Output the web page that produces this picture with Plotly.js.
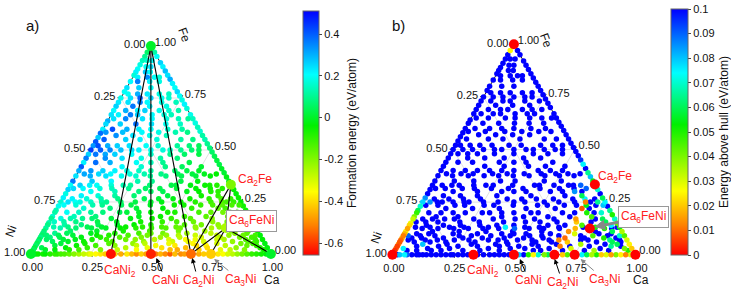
<!DOCTYPE html>
<html>
<head>
<meta charset="utf-8">
<script src="https://cdn.plot.ly/plotly-3.0.1.min.js"></script>
<style>
  html, body { margin: 0; padding: 0; background: #fff; }
  #chart { width: 731px; height: 291px; }
</style>
</head>
<body>
<div id="chart"></div>
<script>
// ---------- Ca–Fe–Ni structures: compositions in at.% ----------

// Fe–Ni binary edge (Ca = 0): Fe content, formation energy, energy above hull
const leftFe = [97, 95, 93, 91, 89, 87.5, 86, 83, 80, 78, 75, 73, 71, 69, 67, 64, 62.5, 60, 58, 56,
  54, 52, 50, 48, 46, 44, 42, 40, 37.5, 35, 33, 31, 29, 27, 25, 23, 21, 20, 18, 17,
  15, 14, 12.5, 11, 10, 9, 8, 7, 6, 5, 4, 3, 2];
const leftEf = [0.06, 0.1, 0.14, 0.18, 0.2, 0.22, 0.17, 0.21, 0.24, 0.2, 0.19, 0.23, 0.26, 0.21, 0.24,
  0.3, 0.25, 0.22, 0.38, 0.27, 0.41, 0.33, 0.44, 0.26, 0.36, 0.22, 0.4, 0.3, 0.24, 0.37,
  0.2, 0.26, 0.18, 0.22, 0.16, 0.19, 0.14, 0.12, 0.16, 0.1, 0.13, 0.09, 0.11, 0.07, 0.08,
  0.06, 0.09, 0.05, 0.07, 0.04, 0.06, 0.03, 0.05];
const leftEh = [0.025, 0.14, 0.19, 0.22, 0.24, 0.26, 0.2, 0.25, 0.28, 0.23, 0.22, 0.26, 0.29, 0.24, 0.27,
  0.33, 0.28, 0.25, 0.41, 0.3, 0.44, 0.36, 0.47, 0.29, 0.39, 0.25, 0.43, 0.32, 0.26, 0.38,
  0.2, 0.24, 0.15, 0.085, 0.078, 0.07, 0.06, 0.048, 0.04, 0.032, 0.028, 0.022, 0.016, 0.025, 0.018,
  0.012, 0.02, 0.01, 0.008, 0.015, 0.006, 0.01, 0.004];

// Fe–Ca binary edge (Ni = 0)
const rightFe = [97, 95, 92, 90, 88, 86, 84, 82, 80, 78, 76, 74, 72, 70, 67, 65, 63, 61, 59, 57,
  55, 53, 51, 49, 47, 45, 43, 41, 39, 37, 35, 31, 29, 27, 25, 23, 21, 19, 17, 15,
  13, 11, 9, 7, 5, 3];
const rightEf = [0.12, 0.2, 0.26, 0.22, 0.28, 0.24, 0.3, 0.22, 0.2, 0.25, 0.2, 0.18, 0.22, 0.17, 0.19,
  0.15, 0.18, 0.14, 0.16, 0.12, 0.13, 0.1, 0.08, 0.06, 0.04, 0.02, 0.03, 0.0, 0.01, -0.02,
  -0.01, -0.04, -0.03, -0.05, -0.04, -0.06, -0.05, -0.07, -0.05, -0.06, -0.04, -0.05, -0.03, -0.04, -0.02,
  -0.03];
const rightEh = [0.14, 0.22, 0.29, 0.25, 0.31, 0.27, 0.33, 0.25, 0.23, 0.28, 0.23, 0.21, 0.25, 0.2, 0.22,
  0.18, 0.21, 0.17, 0.19, 0.15, 0.16, 0.13, 0.12, 0.11, 0.1, 0.095, 0.075, 0.11, 0.065, 0.08,
  0.055, 0.07, 0.1, 0.06, 0.075, 0.12, 0.065, 0.05, 0.07, 0.042, 0.055, 0.035, 0.045, 0.03, 0.025,
  0.02];

// Ni–Ca binary edge (Fe = 0)
const bottomCa = [2, 3, 5, 6, 8, 10, 11, 12.5, 14, 16, 18, 20, 22, 24, 25, 27, 29, 31, 35, 37.5,
  40, 42, 44, 46, 48, 52, 54, 56, 58, 60, 62.5, 64, 70, 72, 78, 80, 82, 84, 86, 88,
  90, 92, 94, 96, 98];
const bottomEf = [-0.03, -0.05, -0.06, -0.04, -0.08, -0.1, -0.09, -0.12, -0.13, -0.16, -0.2, -0.24, -0.28, -0.3, -0.33,
  -0.36, -0.38, -0.42, -0.4, -0.46, -0.38, -0.44, -0.5, -0.41, -0.47, -0.52, -0.45, -0.5, -0.56, -0.44,
  -0.5, -0.48, -0.46, -0.42, -0.38, -0.35, -0.3, -0.27, -0.22, -0.18, -0.14, -0.1, -0.08, -0.06, -0.03];
const bottomEh = [0.11, 0.08, 0.075, 0.09, 0.12, 0.15, 0.18, 0.16, 0.2, 0.22, 0.19, 0.16, 0.13, 0.15, 0.12,
  0.14, 0.16, 0.11, 0.19, 0.13, 0.2, 0.16, 0.12, 0.18, 0.14, 0.08, 0.11, 0.05, 0.025, 0.07,
  0.04, 0.06, 0.02, 0.045, 0.075, 0.06, 0.035, 0.05, 0.02, 0.03, 0.015, 0.04, 0.025, 0.012, 0.03];

// Ternary structures, grouped in rows of equal Fe content
const rowFe = [93, 90, 87.5, 85, 83, 80, 77, 75, 73, 71, 69, 67, 65, 62.5, 60, 58.5, 57, 55, 52, 50,
  48, 46, 44, 42, 40, 38.5, 37.5, 35, 33, 31.5, 30, 28, 26.5, 25, 23.5, 22, 20, 18, 17, 15.5,
  14, 13, 12.5, 11, 10, 9, 8, 7, 6, 5, 4, 3, 2];
const rowCa = [
  [2, 4], [3, 5], [4, 6], [2, 6, 9, 11], [3, 8, 12], [5, 10], [2, 6, 10, 15, 19],
  [4, 8, 12.5, 17, 20], [4, 9, 12, 18, 24], [7, 14, 21], [5, 10, 13, 19, 23, 27],
  [3, 8, 11, 17, 22, 25], [2, 7, 14, 18, 24, 29, 33], [6, 12.5, 19, 25, 31],
  [4, 10, 15, 20, 27, 33], [2, 9, 17, 24, 31, 36], [7, 14, 21, 28], [3, 12, 18, 25, 35, 40],
  [2, 6, 10, 15, 22, 27, 35, 40, 44], [4, 8, 12.5, 17, 20, 25, 30, 33, 37.5, 42, 45],
  [3, 7, 11, 18, 26, 34, 40, 46], [8, 15, 23, 31, 38], [5, 11, 22, 28, 33, 44],
  [17, 25, 35, 42, 50], [5, 10, 15, 20, 25, 30, 40, 45, 50],
  [3, 9, 14, 22, 28, 35, 42, 48, 53, 58], [6, 12.5, 19, 25, 31, 37.5, 44, 50, 56],
  [8, 16, 27, 33, 45, 52], [4, 8, 11, 17, 22, 25, 33, 42, 44, 50, 56, 58, 61],
  [2, 6, 13, 18, 25, 32, 38, 45, 53, 59, 64], [10, 20, 30, 35, 40, 50, 55, 60, 63],
  [7, 14, 21, 29, 43, 57, 64], [4, 10, 16, 23, 34, 40, 46, 53, 61, 66, 70],
  [3, 6, 8, 12.5, 17, 19, 25, 31, 37.5, 42, 50, 56, 62.5, 67, 69, 72],
  [2, 7, 14, 18, 26, 30, 38, 48, 52, 59, 64, 68, 72, 75],
  [11, 22, 33, 44, 56, 67, 70], [5, 10, 15, 20, 27, 30, 35, 40, 47, 50, 60, 65, 70, 73, 76],
  [9, 18, 36, 45, 55, 64, 73], [4, 8, 13, 17, 25, 33, 42, 50, 58, 67, 75, 78],
  [2, 6, 11, 20, 28, 38, 47, 53, 60, 68, 74, 80],
  [7, 14, 21, 29, 36, 43, 57, 64, 71, 79, 83], [3, 9, 17, 23, 33, 40, 48, 54, 62, 72, 77, 86],
  [6, 12.5, 19, 25, 31, 37.5, 44, 50, 56, 62.5, 69, 75, 81, 84],
  [11, 22, 33, 44, 56, 67, 78, 85], [5, 10, 20, 30, 40, 45, 50, 60, 70, 80, 85],
  [2, 7, 13, 23, 28, 36, 44, 52, 57, 64, 73, 78, 84, 89],
  [4, 8, 17, 25, 33, 42, 50, 58, 67, 75, 83, 88],
  [3, 10, 15, 22, 28, 36, 40, 48, 54, 61, 65, 74, 77, 86, 90],
  [6, 12.5, 19, 31, 44, 56, 62.5, 69, 81, 87.5, 91],
  [10, 20, 30, 40, 45, 55, 65, 75, 85, 90], [8, 17, 25, 33, 42, 50, 58, 67, 71, 79, 88, 92],
  [3, 13, 22, 38, 47, 53, 63, 72, 84, 94],
  [5, 9, 15, 19, 28, 35, 43, 57, 60, 69, 78, 82, 88, 96]
];
const rowEf = [
  [0.16, 0.2], [0.2, 0.24], [0.27, 0.2], [0.22, 0.34, 0.2, 0.17], [0.36, 0.22, 0.18], [0.26, 0.2],
  [0.2, 0.3, 0.23, 0.18, 0.15],
  [0.24, 0.4, 0.26, 0.19, 0.16], [0.24, 0.36, 0.21, 0.18, 0.14], [0.37, 0.22, 0.18],
  [0.3, 0.22, 0.26, 0.19, 0.16, 0.13],
  [0.22, 0.36, 0.27, 0.21, 0.17, 0.14], [0.24, 0.35, 0.24, 0.21, 0.17, 0.14, 0.11],
  [0.26, 0.38, 0.24, 0.19, 0.15],
  [0.42, 0.3, 0.22, 0.2, 0.16, 0.12], [0.33, 0.28, 0.21, 0.18, 0.13, 0.09], [0.34, 0.24, 0.19, 0.14],
  [0.4, 0.26, 0.22, 0.17, 0.12, 0.09],
  [0.42, 0.3, 0.26, 0.24, 0.2, 0.16, 0.11, 0.08, 0.05],
  [0.4, 0.35, 0.28, 0.25, 0.22, 0.19, 0.17, 0.15, 0.1, 0.07, 0.05],
  [0.37, 0.31, 0.26, 0.2, 0.15, 0.1, 0.06, 0.03], [0.34, 0.24, 0.18, 0.12, 0.08],
  [0.38, 0.3, 0.2, 0.14, 0.1, 0.03],
  [0.21, 0.16, 0.09, 0.05, 0.01], [0.33, 0.26, 0.22, 0.18, 0.15, 0.12, 0.06, 0.03, 0.0],
  [0.31, 0.25, 0.21, 0.17, 0.13, 0.09, 0.05, 0.02, -0.01, -0.04],
  [0.3, 0.24, 0.19, 0.16, 0.11, 0.08, 0.04, 0.02, -0.03],
  [0.27, 0.21, 0.13, 0.1, 0.03, -0.02],
  [0.26, 0.22, 0.2, 0.17, 0.13, 0.11, 0.07, 0.03, 0.02, -0.02, -0.05, -0.06, -0.08],
  [0.25, 0.21, 0.17, 0.14, 0.1, 0.06, 0.04, 0.01, -0.03, -0.06, -0.08],
  [0.2, 0.14, 0.08, 0.06, 0.04, -0.01, -0.04, -0.07, -0.09],
  [0.22, 0.17, 0.12, 0.07, 0.02, -0.06, -0.1],
  [0.22, 0.17, 0.13, 0.09, 0.04, 0.01, -0.02, -0.05, -0.09, -0.12, -0.1],
  [0.24, 0.2, 0.18, 0.15, 0.12, 0.1, 0.06, 0.03, 0.01, -0.02, -0.05, -0.08, -0.11, -0.14, -0.12, -0.1],
  [0.2, 0.17, 0.13, 0.1, 0.05, 0.03, 0.0, -0.05, -0.06, -0.1, -0.13, -0.15, -0.13, -0.11],
  [0.16, 0.08, 0.02, -0.03, -0.09, -0.15, -0.12],
  [0.2, 0.15, 0.11, 0.08, 0.04, 0.02, 0.0, -0.03, -0.06, -0.07, -0.12, -0.16, -0.18, -0.14, -0.11],
  [0.14, 0.08, -0.01, -0.05, -0.1, -0.15, -0.17],
  [0.18, 0.13, 0.1, 0.07, 0.02, -0.02, -0.06, -0.1, -0.14, -0.2, -0.16, -0.12],
  [0.15, 0.12, 0.09, 0.03, -0.01, -0.06, -0.1, -0.13, -0.17, -0.21, -0.18, -0.14],
  [0.12, 0.08, 0.04, 0.0, -0.04, -0.07, -0.14, -0.18, -0.21, -0.18, -0.13],
  [0.13, 0.09, 0.04, 0.01, -0.05, -0.09, -0.13, -0.16, -0.2, -0.22, -0.19, -0.12],
  [0.13, 0.07, 0.03, 0.0, -0.04, -0.08, -0.11, -0.14, -0.17, -0.22, -0.25, -0.22, -0.17, -0.14],
  [0.06, 0.0, -0.06, -0.12, -0.18, -0.24, -0.2, -0.13],
  [0.1, 0.05, -0.01, -0.07, -0.12, -0.15, -0.18, -0.23, -0.27, -0.2, -0.15],
  [0.07, 0.05, 0.02, -0.04, -0.08, -0.13, -0.18, -0.22, -0.25, -0.29, -0.28, -0.22, -0.17, -0.12],
  [0.08, 0.04, -0.02, -0.08, -0.14, -0.19, -0.23, -0.27, -0.3, -0.26, -0.18, -0.12],
  [0.06, 0.02, -0.01, -0.07, -0.11, -0.17, -0.21, -0.27, -0.31, -0.35, -0.33, -0.29, -0.25, -0.15, -0.11],
  [0.05, 0.0, -0.05, -0.13, -0.22, -0.29, -0.33, -0.3, -0.22, -0.14, -0.1],
  [0.02, -0.06, -0.14, -0.22, -0.27, -0.33, -0.36, -0.3, -0.18, -0.12],
  [0.02, -0.05, -0.12, -0.2, -0.28, -0.34, -0.38, -0.4, -0.36, -0.27, -0.16, -0.1],
  [0.04, -0.03, -0.1, -0.26, -0.33, -0.39, -0.44, -0.4, -0.22, -0.08],
  [0.0, -0.03, -0.08, -0.12, -0.2, -0.28, -0.35, -0.44, -0.46, -0.42, -0.33, -0.28, -0.2, -0.06]
];
const rowEh = [
  [0.2, 0.26], [0.24, 0.31], [0.33, 0.27], [0.28, 0.32, 0.24, 0.21], [0.41, 0.29, 0.22], [0.35, 0.26],
  [0.24, 0.36, 0.28, 0.22, 0.19],
  [0.38, 0.44, 0.32, 0.24, 0.2], [0.29, 0.4, 0.26, 0.22, 0.17], [0.41, 0.3, 0.22],
  [0.35, 0.27, 0.31, 0.23, 0.2, 0.16],
  [0.32, 0.42, 0.37, 0.28, 0.22, 0.18], [0.3, 0.39, 0.29, 0.26, 0.21, 0.17, 0.14],
  [0.34, 0.43, 0.32, 0.25, 0.19],
  [0.46, 0.38, 0.29, 0.27, 0.2, 0.16], [0.37, 0.33, 0.26, 0.22, 0.16, 0.12], [0.4, 0.31, 0.24, 0.18],
  [0.45, 0.32, 0.28, 0.22, 0.17, 0.13],
  [0.44, 0.32, 0.28, 0.26, 0.22, 0.18, 0.13, 0.11, 0.12],
  [0.42, 0.37, 0.3, 0.27, 0.24, 0.21, 0.19, 0.17, 0.13, 0.11, 0.12],
  [0.39, 0.33, 0.28, 0.22, 0.17, 0.12, 0.11, 0.13], [0.36, 0.26, 0.2, 0.15, 0.12],
  [0.4, 0.32, 0.22, 0.17, 0.14, 0.11],
  [0.23, 0.18, 0.13, 0.12, 0.11], [0.35, 0.28, 0.24, 0.2, 0.17, 0.15, 0.12, 0.11, 0.13],
  [0.33, 0.27, 0.23, 0.19, 0.15, 0.12, 0.11, 0.13, 0.12, 0.11],
  [0.32, 0.26, 0.21, 0.18, 0.14, 0.13, 0.12, 0.14, 0.11],
  [0.29, 0.23, 0.16, 0.14, 0.12, 0.11],
  [0.28, 0.24, 0.22, 0.19, 0.16, 0.14, 0.12, 0.13, 0.12, 0.11, 0.12, 0.1, 0.09],
  [0.27, 0.23, 0.19, 0.16, 0.12, 0.11, 0.13, 0.12, 0.11, 0.12, 0.09],
  [0.22, 0.16, 0.12, 0.11, 0.13, 0.12, 0.11, 0.085, 0.12],
  [0.24, 0.19, 0.15, 0.12, 0.13, 0.11, 0.06],
  [0.24, 0.19, 0.15, 0.12, 0.11, 0.13, 0.12, 0.11, 0.12, 0.075, 0.11],
  [0.085, 0.22, 0.2, 0.17, 0.14, 0.13, 0.12, 0.11, 0.14, 0.12, 0.13, 0.11, 0.12, 0.012, 0.13, 0.065],
  [0.22, 0.19, 0.15, 0.12, 0.11, 0.13, 0.12, 0.11, 0.12, 0.13, 0.11, 0.055, 0.12, 0.08],
  [0.18, 0.12, 0.13, 0.11, 0.12, 0.008, 0.12],
  [0.22, 0.17, 0.13, 0.11, 0.12, 0.14, 0.12, 0.11, 0.13, 0.12, 0.12, 0.11, 0.05, 0.13, 0.07],
  [0.16, 0.12, 0.13, 0.11, 0.12, 0.12, 0.045],
  [0.2, 0.15, 0.12, 0.11, 0.13, 0.12, 0.11, 0.12, 0.11, 0.015, 0.12, 0.06],
  [0.17, 0.14, 0.11, 0.12, 0.13, 0.11, 0.12, 0.11, 0.13, 0.02, 0.12, 0.06],
  [0.14, 0.11, 0.12, 0.13, 0.11, 0.12, 0.12, 0.13, 0.045, 0.12, 0.075],
  [0.15, 0.11, 0.12, 0.13, 0.11, 0.075, 0.12, 0.11, 0.13, 0.11, 0.05, 0.12],
  [0.15, 0.11, 0.12, 0.13, 0.11, 0.12, 0.09, 0.11, 0.12, 0.12, 0.018, 0.13, 0.05, 0.12],
  [0.12, 0.11, 0.13, 0.12, 0.11, 0.014, 0.12, 0.06],
  [0.13, 0.12, 0.11, 0.12, 0.13, 0.11, 0.12, 0.12, 0.03, 0.12, 0.13],
  [0.09, 0.12, 0.11, 0.13, 0.12, 0.11, 0.12, 0.13, 0.11, 0.12, 0.11, 0.045, 0.12, 0.07],
  [0.12, 0.11, 0.12, 0.13, 0.11, 0.12, 0.13, 0.11, 0.01, 0.12, 0.05, 0.12],
  [0.12, 0.11, 0.13, 0.12, 0.11, 0.12, 0.13, 0.11, 0.12, 0.11, 0.013, 0.12, 0.11, 0.065, 0.12],
  [0.11, 0.12, 0.11, 0.12, 0.13, 0.11, 0.12, 0.02, 0.13, 0.06, 0.12],
  [0.08, 0.12, 0.11, 0.13, 0.12, 0.11, 0.12, 0.035, 0.12, 0.06],
  [0.11, 0.12, 0.13, 0.11, 0.12, 0.11, 0.1, 0.012, 0.12, 0.13, 0.065, 0.12],
  [0.075, 0.12, 0.11, 0.12, 0.13, 0.11, 0.12, 0.03, 0.12, 0.04],
  [0.11, 0.12, 0.13, 0.11, 0.12, 0.13, 0.11, 0.12, 0.11, 0.12, 0.11, 0.035, 0.12, 0.05]
];

// Elements and stable compounds (atoms per formula unit)
const cmpName = ['Fe', 'Ni', 'Ca', 'CaNi2', 'CaNi', 'Ca2Ni', 'Ca3Ni', 'Ca2Fe', 'Ca6FeNi'];
const cmpCa = [0, 0, 1, 1, 1, 2, 3, 2, 6];
const cmpFe = [1, 0, 0, 0, 0, 0, 0, 1, 1];
const cmpNi = [0, 1, 0, 2, 1, 1, 1, 0, 1];
const cmpEf = [0, 0, 0, -0.64, -0.62, -0.54, -0.42, -0.19, -0.25];
const cmpEh = [0, 0, 0, 0, 0, 0, 0, 0, 0];

// Convex-hull tie lines
const hullPairs = [['Fe', 'CaNi2'], ['Fe', 'CaNi'], ['Fe', 'Ca2Ni'], ['Ca2Fe', 'Ca2Ni'],
  ['Ca2Fe', 'Ca6FeNi'], ['Ca6FeNi', 'Ca2Ni'], ['Ca6FeNi', 'Ca3Ni'], ['Ca6FeNi', 'Ca']];

// Ternary axis ticks (each edge reads the fraction of the component at its end)
const tickVals = [0, 0.25, 0.5, 0.75, 1];
const tickText = ['1.00', '0.75', '0.50', '0.25', '0.00'];

// Colour bar ticks
const efTicks = [-0.6, -0.4, -0.2, 0, 0.2, 0.4];
const ehTicks = [0, 0.01, 0.02, 0.03, 0.04, 0.05, 0.06, 0.07, 0.08, 0.09, 0.1];

// ---------- assemble ----------
const flat = rows => [].concat(...rows);
const inCa = flat(rowCa);
const inFe = flat(rowCa.map((r, i) => r.map(() => rowFe[i])));
const ptCa = [...leftFe.map(() => 0), ...rightFe.map(f => 100 - f), ...bottomCa, ...inCa];
const ptFe = [...leftFe, ...rightFe, ...bottomCa.map(() => 0), ...inFe];
const ptNi = ptCa.map((c, i) => 100 - c - ptFe[i]);
const ptEf = [...leftEf, ...rightEf, ...bottomEf, ...flat(rowEf)];
const ptEh = [...leftEh, ...rightEh, ...bottomEh, ...flat(rowEh)];
if (rowCa.length !== rowFe.length || rowEf.length !== rowFe.length || rowEh.length !== rowFe.length) {
  throw new Error('row count mismatch');
}
rowCa.forEach((r, i) => {
  if (rowEf[i].length !== r.length || rowEh[i].length !== r.length) throw new Error('row ' + rowFe[i]);
});
if (leftEf.length !== leftFe.length || leftEh.length !== leftFe.length ||
    rightEf.length !== rightFe.length || rightEh.length !== rightFe.length ||
    bottomEf.length !== bottomCa.length || bottomEh.length !== bottomCa.length) {
  throw new Error('edge length mismatch');
}

// stable-side points drawn last in panel b
const order = ptEh.map((v, i) => i).sort((i, j) => ptEh[j] - ptEh[i]);
const pick = arr => order.map(i => arr[i]);

const hullA = [], hullB = [], hullC = [];
hullPairs.forEach(pair => {
  pair.forEach(n => {
    const k = cmpName.indexOf(n);
    hullA.push(cmpFe[k]); hullB.push(cmpNi[k]); hullC.push(cmpCa[k]);
  });
  hullA.push(null); hullB.push(null); hullC.push(null);
});

const rainbow = [[0, '#ff0000'], [0.12, '#ff8000'], [0.26, '#ffff00'], [0.53, '#00f000'],
  [0.74, '#00ffff'], [1, '#0000ff']];

const FONT = 'Arial, "Liberation Sans", sans-serif';
const W = 731, H = 291;
const px = x => x / W, py = y => 1 - y / H;

const traces = [
  { type: 'scatterternary', subplot: 'ternary', mode: 'markers', cliponaxis: false,
    a: ptFe, b: ptNi, c: ptCa,
    marker: { size: 5.5, color: ptEf, coloraxis: 'coloraxis', line: { width: 0 } },
    hoverinfo: 'skip', showlegend: false },
  { type: 'scatterternary', subplot: 'ternary', mode: 'lines', cliponaxis: false,
    a: hullA, b: hullB, c: hullC, connectgaps: false,
    line: { color: '#000', width: 1.1 }, hoverinfo: 'skip', showlegend: false },
  { type: 'scatterternary', subplot: 'ternary', mode: 'markers', cliponaxis: false,
    a: cmpFe, b: cmpNi, c: cmpCa,
    marker: { size: 10, color: cmpEf, coloraxis: 'coloraxis', line: { width: 0 } },
    hoverinfo: 'skip', showlegend: false },
  { type: 'scatterternary', subplot: 'ternary2', mode: 'markers', cliponaxis: false,
    a: pick(ptFe), b: pick(ptNi), c: pick(ptCa),
    marker: { size: 5.5, color: pick(ptEh), coloraxis: 'coloraxis2', line: { width: 0 } },
    hoverinfo: 'skip', showlegend: false },
  { type: 'scatterternary', subplot: 'ternary2', mode: 'markers', cliponaxis: false,
    a: cmpFe, b: cmpNi, c: cmpCa,
    marker: { size: 10, color: cmpEh, coloraxis: 'coloraxis2', line: { width: 0 } },
    hoverinfo: 'skip', showlegend: false }
];

function ternAxis() {
  return {
    min: 0, tickmode: 'array', tickvals: tickVals, ticktext: tickText,
    ticks: 'outside', ticklen: 3, tickwidth: 1, tickcolor: '#333',
    showgrid: true, gridcolor: '#dcdcdc', gridwidth: 0.8,
    showline: true, linecolor: '#222', linewidth: 1, layer: 'below traces',
    tickfont: { family: FONT, size: 11, color: '#111' }, title: { text: '' }
  };
}
function ternary(x0, x1, y0, y1) {
  return { domain: { x: [px(x0), px(x1)], y: [py(y1), py(y0)] }, sum: 1, bgcolor: 'rgba(0,0,0,0)',
    aaxis: ternAxis(), baxis: ternAxis(), caxis: ternAxis() };
}
function colorbar(x, yTop, len, thick, vals, title) {
  return { x: px(x), xanchor: 'left', xpad: 0, y: py(yTop), yanchor: 'top', ypad: 0,
    len: len, lenmode: 'pixels', thickness: thick, outlinewidth: 1, outlinecolor: '#666',
    ticks: 'outside', ticklen: 3, tickcolor: '#444', tickmode: 'array', tickvals: vals,
    ticktext: vals.map(v => String(v)), tickfont: { family: FONT, size: 11, color: '#111' },
    title: { text: title, side: 'right', font: { family: FONT, size: 12, color: '#111' } } };
}

const RED = '#ff2020';
const DARK = '#111';
// plain text label centred on a pixel position
function label(x, y, text, extra) {
  return Object.assign({ xref: 'paper', yref: 'paper', x: px(x), y: py(y), text: text,
    showarrow: false, xanchor: 'center', yanchor: 'middle',
    font: { family: FONT, size: 12, color: RED } }, extra || {});
}
// label whose arrow points from the text (tx, ty) to the compound (hx, hy)
function pointer(hx, hy, tx, ty, text, color, width, extra) {
  return Object.assign({ xref: 'paper', yref: 'paper', x: px(hx), y: py(hy), ax: tx - hx, ay: ty - hy,
    text: text, showarrow: true, arrowhead: 2, arrowsize: width > 2 ? 0.7 : 1,
    arrowwidth: width || 1, arrowcolor: color || '#000', standoff: 0,
    font: { family: FONT, size: 12, color: RED } }, extra || {});
}
const box = { bordercolor: '#999', borderwidth: 1, borderpad: 2, bgcolor: '#fff' };
const dark = { font: { family: FONT, size: 12, color: DARK } };

const annotations = [
  label(33, 25, 'a)', { font: { family: FONT, size: 15, color: DARK } }),
  label(185, 35, 'Fe', Object.assign({ textangle: 70 }, dark)),
  label(11, 231, 'Ni', Object.assign({ textangle: -70 }, dark)),
  label(273, 280, 'Ca', dark),
  label(120, 271, 'CaNi<sub>2</sub>'),
  pointer(157, 258, 166, 280, 'CaNi'),
  pointer(193, 258, 199, 281, 'Ca<sub>2</sub>Ni'),
  pointer(215, 259, 241, 280, 'Ca<sub>3</sub>Ni', '#888'),
  label(256, 180, 'Ca<sub>2</sub>Fe'),
  label(253, 221, 'Ca<sub>6</sub>FeNi', box),

  label(400, 25, 'b)', { font: { family: FONT, size: 15, color: DARK } }),
  label(548, 40, 'Fe', Object.assign({ textangle: 70 }, dark)),
  label(378, 238, 'Ni', Object.assign({ textangle: -70 }, dark)),
  label(644, 280, 'Ca', dark),
  label(485, 271, 'CaNi<sub>2</sub>'),
  pointer(522, 259, 531, 280, 'CaNi'),
  pointer(557, 259, 565, 283, 'Ca<sub>2</sub>Ni'),
  pointer(583, 259, 607, 280, 'Ca<sub>3</sub>Ni', '#888'),
  label(618, 177, 'Ca<sub>2</sub>Fe'),
  pointer(597, 227, 646, 217, 'Ca<sub>6</sub>FeNi', '#888', 3, box)
];

const layout = {
  width: W, height: H, autosize: false,
  margin: { l: 0, r: 0, t: 0, b: 0, pad: 0 },
  paper_bgcolor: '#fff', plot_bgcolor: '#fff',
  font: { family: FONT, size: 11, color: DARK },
  showlegend: false,
  ternary: ternary(31, 272, 45, 255),
  ternary2: ternary(394, 638, 44, 255),
  coloraxis: { colorscale: rainbow, cmin: -0.657, cmax: 0.51,
    colorbar: colorbar(304, 11, 244, 16, efTicks, 'Formation energy (eV/atom)') },
  coloraxis2: { colorscale: rainbow, cmin: 0, cmax: 0.1,
    colorbar: colorbar(674, 9, 246, 17, ehTicks, 'Energy above hull (eV/atom)') },
  annotations: annotations
};

Plotly.newPlot('chart', traces, layout, { staticPlot: true, displayModeBar: false });
</script>
</body>
</html>
